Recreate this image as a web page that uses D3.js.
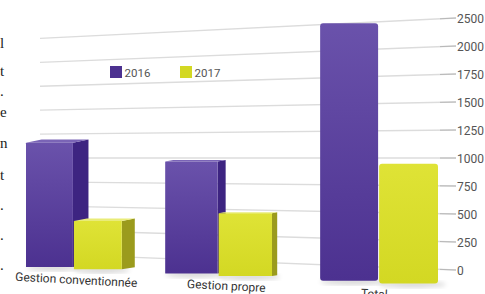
<!DOCTYPE html>
<html>
<head>
<meta charset="utf-8">
<script src="https://cdn.jsdelivr.net/npm/d3@7"></script>
<style>
  html, body { margin: 0; padding: 0; background: #fff; }
  svg { display: block; }
</style>
</head>
<body>
<svg id="chart" width="485" height="294"></svg>
<script>
// ---- data ----
const categories = ["Gestion conventionnée", "Gestion propre", "Total"];
const series = ["2016", "2017"];
const values2016 = [1110, 1000, 2300];
const values2017 = [430, 560, 1070];
const tickValues = [0, 250, 500, 750, 1000, 1250, 1500, 1750, 2000, 2250];
const tickLabels = ["0", "250", "500", "750", "1000", "1250", "1500", "1750", "2000", "2500"];
const sideText = ["l", "t", ".", "e", "n", "t", ".", ".", "."];

// ---- layout ----
const svg = d3.select("#chart");
const defs = svg.append("defs");

const colors = {
  "2016": { front: ["#6a52ab", "#4c3190"], side: "#3d2481", top: "#7a64b6" },
  "2017": { front: ["#dfe336", "#d3d823"], side: "#9b9b1d", top: "#e9ec78" }
};
series.forEach(s => {
  const g = defs.append("linearGradient").attr("id", "grad" + s)
    .attr("x1", 0).attr("y1", 0).attr("x2", 0).attr("y2", 1);
  g.append("stop").attr("offset", "0%").attr("stop-color", colors[s].front[0]);
  g.append("stop").attr("offset", "100%").attr("stop-color", colors[s].front[1]);
});
defs.append("filter").attr("id", "blur").append("feGaussianBlur").attr("stdDeviation", 2.5);

// value scale (as seen at the right wall edge)
const y = d3.scaleLinear().domain([0, 2250]).range([270, 18]);
const pxPerUnit = (y(0) - y(250)) / 250;

// wall perspective: lines converge toward the left around the centre line
const wallRight = 456, wallLeft = 40, cy = y(1000);
const persp = (x, yy) => cy + (yy - cy) * (1 - (wallRight - x) * 0.00035);

// gridlines
const grid = svg.append("g");
tickValues.forEach((v, i) => {
  grid.append("line")
    .attr("x1", wallLeft).attr("y1", persp(wallLeft, y(v)))
    .attr("x2", wallRight).attr("y2", persp(wallRight, y(v)))
    .attr("stroke", "#dcdcdc").attr("stroke-width", 1.3);
  grid.append("line")
    .attr("x1", wallRight - 16).attr("y1", persp(wallRight - 16, y(v)))
    .attr("x2", wallRight).attr("y2", y(v))
    .attr("stroke", "#b8b8b8").attr("stroke-width", 1);
  grid.append("text")
    .attr("x", wallRight + 1).attr("y", y(v) + 4.5)
    .attr("font-family", "Roboto, sans-serif").attr("font-size", 12)
    .attr("fill", "#555").text(tickLabels[i]);
});

// legend
const legend = svg.append("g");
[{ s: "2016", x: 110 }, { s: "2017", x: 180 }].forEach(d => {
  legend.append("rect").attr("x", d.x).attr("y", 66).attr("width", 12).attr("height", 12)
    .attr("fill", colors[d.s].front[1]);
  legend.append("text").attr("x", d.x + 14.5).attr("y", 77)
    .attr("font-family", "Roboto, sans-serif").attr("font-size", 11.5)
    .attr("fill", "#555").text(d.s);
});

// bars: band scales in flat units, then a perspective stretch to pixels
const x0 = d3.scaleBand().domain(categories).range([0, 1]).paddingInner(0.3).paddingOuter(0);
const x1 = d3.scaleBand().domain(series).range([0, x0.bandwidth()]).padding(0);
const px = u => 26 + 354.5 * u + 57.5 * u * u;
const base = x => 267 + (x - 50) * 0.046;
const depth = x => Math.max(0, (372 - x) * 0.052);

const rows = [];
categories.forEach((c, i) => {
  rows.push({ c, s: "2016", v: values2016[i] });
  rows.push({ c, s: "2017", v: values2017[i] });
});
const geom = d => {
  const u0 = x0(d.c) + x1(d.s);
  const xl = px(u0) + (d.s === "2017" ? 1 : 0);
  const xr = px(u0 + x1.bandwidth());
  const xc = (xl + xr) / 2;
  const bot = base(xc);
  const top = bot - d.v * pxPerUnit;
  return { xl, xr, xc, bot, top, dp: depth(xr) };
};

const bars = svg.append("g");
rows.forEach(d => {
  const g = geom(d);
  bars.append("ellipse").attr("cx", g.xc + 4).attr("cy", g.bot + 1)
    .attr("rx", (g.xr - g.xl) / 2 + 4).attr("ry", 3)
    .attr("fill", "#000").attr("opacity", 0.16).attr("filter", "url(#blur)");
});
rows.forEach(d => {
  const { xl, xr, bot, top, dp } = geom(d);
  const g = bars.append("g");
  if (dp > 0.5) {
    g.append("polygon")
      .attr("points", [[xr, top], [xr + dp, top - dp * 0.2], [xr + dp, bot - dp * 0.15], [xr, bot]].join(" "))
      .attr("fill", colors[d.s].side);
    g.append("polygon")
      .attr("points", [[xl, top], [xl + dp, top - dp * 0.2], [xr + dp, top - dp * 0.2], [xr, top]].join(" "))
      .attr("fill", colors[d.s].top);
  }
  g.append("rect").attr("x", xl).attr("y", top).attr("width", xr - xl).attr("height", bot - top)
    .attr("rx", dp > 0.5 ? 0.5 : 3)
    .attr("fill", `url(#grad${d.s})`);
});

// category labels
const labelPos = [{ x: 76, y: 284 }, { x: 226, y: 290 }, { x: 374, y: 298 }];
categories.forEach((c, i) => {
  svg.append("text")
    .attr("transform", `translate(${labelPos[i].x},${labelPos[i].y}) rotate(3)`)
    .attr("text-anchor", "middle")
    .attr("font-family", "Roboto, sans-serif").attr("font-size", 12)
    .attr("fill", "#333").text(c);
});

// left-edge page text fragments
const sideY = [48, 76, 96, 117, 148, 180, 210, 240, 270];
sideText.forEach((t, i) => {
  svg.append("text").attr("x", 0).attr("y", sideY[i])
    .attr("font-family", "Liberation Serif, serif").attr("font-size", 15)
    .attr("fill", "#222").text(t);
});
</script>
</body>
</html>
